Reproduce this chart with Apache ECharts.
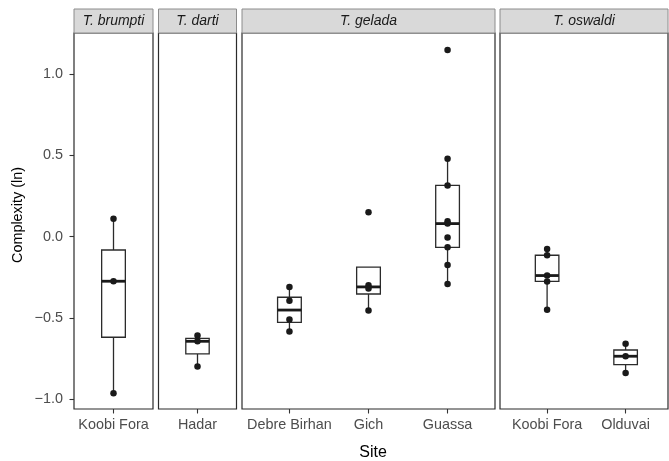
<!DOCTYPE html>
<html><head><meta charset="utf-8">
<script src="https://cdn.jsdelivr.net/npm/echarts@6/dist/echarts.min.js"></script>
<style>html,body{margin:0;padding:0;background:#fff}#c{width:669px;height:461px}</style>
</head><body><div id="c"></div>
<script>
// ---- data ----
const species = ['T. brumpti', 'T. darti', 'T. gelada', 'T. oswaldi'];
const sitesBrumpti = ['Koobi Fora'];
const sitesDarti = ['Hadar'];
const sitesGelada = ['Debre Birhan', 'Gich', 'Guassa'];
const sitesOswaldi = ['Koobi Fora', 'Olduvai'];

const brumptiKoobiFora = [0.11, -0.275, -0.965];
const dartiHadar = [-0.61, -0.645, -0.80];
const geladaDebreBirhan = [-0.31, -0.395, -0.51, -0.585];
const geladaGich = [0.15, -0.30, -0.32, -0.455];
const geladaGuassa = [1.15, 0.48, 0.315, 0.094, 0.08, -0.006, -0.066, -0.175, -0.292];
const oswaldiKoobiFora = [-0.076, -0.115, -0.24, -0.276, -0.451];
const oswaldiOlduvai = [-0.66, -0.737, -0.841];

const yTicks = [-1.0, -0.5, 0.0, 0.5, 1.0];
const yTitle = 'Complexity (ln)';
const xTitle = 'Site';

// ---- layout (not data) ----
const panelData = [
  { name: species[0], sites: sitesBrumpti, groups: [brumptiKoobiFora] },
  { name: species[1], sites: sitesDarti, groups: [dartiHadar] },
  { name: species[2], sites: sitesGelada, groups: [geladaDebreBirhan, geladaGich, geladaGuassa] },
  { name: species[3], sites: sitesOswaldi, groups: [oswaldiKoobiFora, oswaldiOlduvai] }
];
const panelLayout = [
  { left: 74, width: 79, xmin: 0.5, xmax: 1.5 },
  { left: 158.5, width: 78, xmin: 0.5, xmax: 1.5 },
  { left: 242, width: 253, xmin: 0.4, xmax: 3.6 },
  { left: 500, width: 168, xmin: 0.4, xmax: 2.54 }
];
const TOP = 33, HEIGHT = 376, STRIP_TOP = 9, STRIP_H = 24;
const YMIN = -1.062, YMAX = 1.254;
const FONT = '"Liberation Sans", Arial, Helvetica, sans-serif';

function quantile(asc, p) {
  const h = (asc.length - 1) * p;
  const lo = Math.floor(h);
  const e = h - lo;
  return lo + 1 < asc.length ? asc[lo] + e * (asc[lo + 1] - asc[lo]) : asc[lo];
}
function boxStats(vals) {
  const asc = vals.slice().sort((a, b) => a - b);
  const q1 = quantile(asc, 0.25), md = quantile(asc, 0.5), q3 = quantile(asc, 0.75);
  const iqr = q3 - q1;
  const inF = asc.filter(v => v >= q1 - 1.5 * iqr && v <= q3 + 1.5 * iqr);
  return [inF[0], q1, md, q3, inF[inF.length - 1]];
}

function renderBox(params, api) {
  const x = api.value(0);
  const lo = api.coord([x, api.value(1)]);
  const q1 = api.coord([x, api.value(2)]);
  const md = api.coord([x, api.value(3)]);
  const q3 = api.coord([x, api.value(4)]);
  const hi = api.coord([x, api.value(5)]);
  const hw = api.size([0.3, 0])[0] / 2;
  const stroke = '#2b2b2b';
  return {
    type: 'group', children: [
      { type: 'line', shape: { x1: lo[0], y1: lo[1], x2: q1[0], y2: q1[1] }, style: { stroke, lineWidth: 1.3 } },
      { type: 'line', shape: { x1: q3[0], y1: q3[1], x2: hi[0], y2: hi[1] }, style: { stroke, lineWidth: 1.3 } },
      { type: 'rect', shape: { x: q3[0] - hw, y: q3[1], width: 2 * hw, height: q1[1] - q3[1] }, style: { fill: '#ffffff', stroke, lineWidth: 1.3 } },
      { type: 'line', shape: { x1: md[0] - hw, y1: md[1], x2: md[0] + hw, y2: md[1] }, style: { stroke: '#1a1a1a', lineWidth: 2.8 } }
    ]
  };
}

const grid = [], xAxis = [], yAxis = [], series = [], graphic = [];
panelData.forEach((p, i) => {
  const L = panelLayout[i];
  grid.push({ left: L.left, top: TOP, width: L.width, height: HEIGHT, show: true, borderColor: '#2b2b2b', borderWidth: 1.2, backgroundColor: '#ffffff' });
  const idx = p.sites.map((s, k) => k + 1);
  xAxis.push({
    type: 'value', gridIndex: i, min: L.xmin, max: L.xmax, position: 'bottom',
    axisLine: { show: false, onZero: false }, splitLine: { show: false },
    axisTick: { show: true, customValues: idx, length: 4.5, lineStyle: { color: '#333333', width: 1.1 } },
    axisLabel: { show: true, customValues: idx, margin: 9, color: '#4d4d4d', fontSize: 14.4, fontFamily: FONT, formatter: v => p.sites[Math.round(v) - 1] || '' }
  });
  yAxis.push({
    type: 'value', gridIndex: i, min: YMIN, max: YMAX, position: 'left',
    axisLine: { show: false, onZero: false }, splitLine: { show: false },
    axisTick: { show: i === 0, customValues: yTicks, length: 4.5, lineStyle: { color: '#333333', width: 1.1 } },
    axisLabel: { show: i === 0, customValues: yTicks, margin: 11, color: '#4d4d4d', fontSize: 14.4, fontFamily: FONT, formatter: v => (v < 0 ? '\u2212' : '') + Math.abs(v).toFixed(1) }
  });
  series.push({
    type: 'custom', xAxisIndex: i, yAxisIndex: i, renderItem: renderBox, silent: true,
    encode: { x: 0, y: [1, 2, 3, 4, 5] },
    data: p.groups.map((g, k) => [k + 1].concat(boxStats(g)))
  });
  const pts = [];
  p.groups.forEach((g, k) => g.forEach(v => pts.push([k + 1, v])));
  series.push({
    type: 'scatter', xAxisIndex: i, yAxisIndex: i, data: pts, symbolSize: 6.5, z: 5,
    itemStyle: { color: '#1a1a1a', opacity: 1 }, silent: true
  });
  graphic.push({
    type: 'rect', shape: { x: L.left, y: STRIP_TOP, width: L.width, height: STRIP_H },
    style: { fill: '#d9d9d9', stroke: '#8c8c8c', lineWidth: 1 }, z: 1
  });
  graphic.push({
    type: 'text', x: L.left + L.width / 2, y: STRIP_TOP + STRIP_H / 2 + 0.5, z: 2,
    style: { text: p.name, textAlign: 'center', textVerticalAlign: 'middle', font: 'italic 14px ' + FONT, fill: '#1a1a1a' }
  });
});
graphic.push({
  type: 'text', x: 18, y: TOP + HEIGHT / 2 - 6, rotation: Math.PI / 2,
  style: { text: yTitle, textAlign: 'center', textVerticalAlign: 'middle', font: '14.4px ' + FONT, fill: '#000000' }
});
graphic.push({
  type: 'text', x: (74 + 668) / 2 + 2, y: 453,
  style: { text: xTitle, textAlign: 'center', textVerticalAlign: 'middle', font: '16px ' + FONT, fill: '#000000' }
});

const chart = echarts.init(document.getElementById('c'), null, { renderer: 'canvas' });
chart.setOption({ animation: false, backgroundColor: '#ffffff', grid, xAxis, yAxis, series, graphic });
</script>
</body></html>
